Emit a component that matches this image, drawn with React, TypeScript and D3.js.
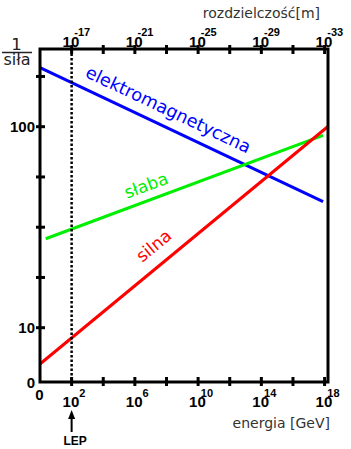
import React from "react";
import * as d3 from "d3";

// ---- data ----
const seriesNames = ["elektromagnetyczna", "słaba", "silna"];
const seriesColors = ["#0000ff", "#00ee00", "#ff0000"];
const seriesEnergy: number[][] = [
  [1, 8e17],
  [2.3, 8e17],
  [1, 1.7e18],
];
const seriesValue: number[][] = [
  [196.6, 42.4],
  [27.7, 90.6],
  [6.6, 100.5],
];
const labelEnergy = [4.5e7, 1.1e7, 9e7];
const labelOffset = [11, 9, 13];

const bottomTicks = [1e2, 1e4, 1e6, 1e8, 1e10, 1e12, 1e14, 1e16, 1e18];
const bottomLabelExp = ["2", "6", "10", "14", "18"];
const topTicks = [1e-17, 1e-19, 1e-21, 1e-23, 1e-25, 1e-27, 1e-29, 1e-31, 1e-33];
const topLabelExp = ["-17", "-21", "-25", "-29", "-33"];
const leftTicks = [10, 17.78, 31.62, 56.23, 100, 177.8];
const leftLabels = [10, 100];
const lepEnergy = 1e2;

const W = 351;
const H = 449;
const L = 40, R = 328, T = 49, B = 382;

export default function App() {
  const xs = d3.scaleLog().domain([1, 1e18]).range([40, 324.6]);
  const xt = d3.scaleLog().domain([1e-15, 1e-33]).range([40, 324.6]);
  const ys = d3.scaleLog().domain([10, 100]).range([327.7, 126.7]);
  const line = d3
    .line<[number, number]>()
    .x((d) => xs(d[0]))
    .y((d) => ys(d[1]));

  const numFont = "'Liberation Sans', Arial, sans-serif";
  const txtFont = "'DejaVu Sans', Verdana, sans-serif";

  const supLabel = (x: number, baseY: number, supDy: number, exp: string, key: string) => {
    const overlap = exp.length > 1 ? -5 : 0;
    return (
      <text key={key} x={x - 9} y={baseY} fontFamily={numFont} fontWeight="bold" fill="#000" fontSize={15}>
        10
        <tspan dx={overlap} dy={supDy} fontSize={11}>{exp}</tspan>
      </text>
    );
  };

  return (
    <svg
      width={W}
      height={H}
      style={{ position: "absolute", left: 0, top: 0, background: "#fff" }}
    >
      <rect x={0} y={0} width={W} height={H} fill="#fff" />
      {/* series lines */}
      {seriesNames.map((n, i) => {
        const pts: [number, number][] = seriesEnergy[i].map((e, j) => [e, seriesValue[i][j]]);
        return (
          <path
            key={n}
            d={line(pts) || ""}
            stroke={seriesColors[i]}
            strokeWidth={3}
            fill="none"
          />
        );
      })}
      {/* series labels */}
      {seriesNames.map((n, i) => {
        const x0 = xs(seriesEnergy[i][0]), y0 = ys(seriesValue[i][0]);
        const x1 = xs(seriesEnergy[i][1]), y1 = ys(seriesValue[i][1]);
        const ang = Math.atan2(y1 - y0, x1 - x0);
        const lx = xs(labelEnergy[i]);
        const ly = y0 + ((lx - x0) * (y1 - y0)) / (x1 - x0);
        const ox = lx + Math.sin(ang) * labelOffset[i];
        const oy = ly - Math.cos(ang) * labelOffset[i];
        return (
          <text
            key={n + "-l"}
            transform={`translate(${ox},${oy}) rotate(${(ang * 180) / Math.PI})`}
            textAnchor="middle"
            fontFamily={txtFont}
            fontSize={i === 0 ? 17.6 : 17}
            fill={seriesColors[i]}
          >
            {n}
          </text>
        );
      })}
      {/* LEP dotted line */}
      <line
        x1={xs(lepEnergy)}
        x2={xs(lepEnergy)}
        y1={T}
        y2={B}
        stroke="#000"
        strokeWidth={2.5}
        strokeDasharray="2.5,2"
      />
      {/* frame */}
      <rect x={L} y={T} width={R - L} height={B - T} fill="none" stroke="#000" strokeWidth={3} />
      {/* bottom ticks */}
      {bottomTicks.map((t) => (
        <line key={"b" + t} x1={xs(t)} x2={xs(t)} y1={B - 5} y2={B + 4} stroke="#000" strokeWidth={3} />
      ))}
      {/* top ticks */}
      {topTicks.map((t) => (
        <line key={"t" + t} x1={xt(t)} x2={xt(t)} y1={T - 4} y2={T + 5} stroke="#000" strokeWidth={3} />
      ))}
      {/* left ticks */}
      {leftTicks.map((t) => (
        <line key={"l" + t} x1={L - 4} x2={L + 5} y1={ys(t)} y2={ys(t)} stroke="#000" strokeWidth={3} />
      ))}
      {/* bottom labels */}
      {bottomLabelExp.map((e) => supLabel(xs(Math.pow(10, +e)), 407, -10, e, "bl" + e))}
      <text x={L - 0.5} y={400} textAnchor="middle" fontFamily={numFont} fontWeight="bold" fontSize={15}>0</text>
      {/* top labels */}
      {topLabelExp.map((e) => supLabel(xt(Math.pow(10, +e)), 47, -11.5, e, "tl" + e))}
      {/* left labels */}
      {leftLabels.map((v) => (
        <text key={"ll" + v} x={35} y={ys(v) + 5.5} textAnchor="end" fontFamily={numFont} fontWeight="bold" fontSize={15}>
          {v}
        </text>
      ))}
      <text x={35} y={388} textAnchor="end" fontFamily={numFont} fontWeight="bold" fontSize={15}>0</text>
      {/* axis titles */}
      <text x={320} y={17.5} textAnchor="end" fontFamily={txtFont} fontSize={14} fill="#333">rozdzielczość[m]</text>
      <text x={330} y={428} textAnchor="end" fontFamily={txtFont} fontSize={14} fill="#333">energia [GeV]</text>
      {/* 1/siła */}
      <text x={16.5} y={49.5} textAnchor="middle" fontFamily={txtFont} fontSize={16.5} fill="#222">1</text>
      <line x1={2} x2={32} y1={52.5} y2={52.5} stroke="#222" strokeWidth={1.5} />
      <text x={17} y={65} textAnchor="middle" fontFamily={txtFont} fontSize={16} fill="#222">siła</text>
      {/* LEP arrow */}
      <line x1={xs(lepEnergy)} x2={xs(lepEnergy)} y1={417} y2={432} stroke="#000" strokeWidth={2} />
      <path
        d={`M${xs(lepEnergy)},410 L${xs(lepEnergy) - 3.5},419 L${xs(lepEnergy) + 3.5},419 Z`}
        fill="#000"
      />
      <text x={xs(lepEnergy) + 3.5} y={445} textAnchor="middle" fontFamily={numFont} fontWeight="bold" fontSize={12}>
        LEP
      </text>
    </svg>
  );
}
